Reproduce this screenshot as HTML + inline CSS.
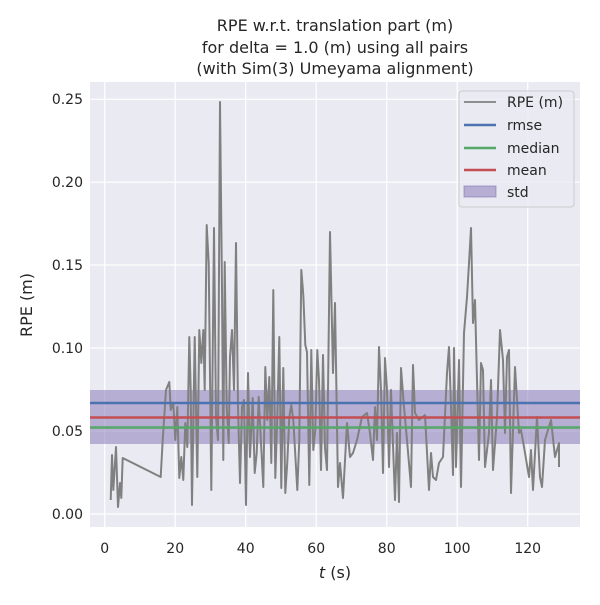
<!DOCTYPE html>
<html><head><style>
body{margin:0;background:#fff;font-family:"Liberation Sans","DejaVu Sans",sans-serif}
</style></head><body>
<svg width="600" height="600" xmlns="http://www.w3.org/2000/svg" font-family="DejaVu Sans, Liberation Sans, sans-serif">
<rect width="600" height="600" fill="#fff"/>
<rect x="90" y="82" width="490" height="445" fill="#eaeaf2"/>
<g stroke="#fff" stroke-width="1.2">
<line x1="104.7" y1="82" x2="104.7" y2="527"/><line x1="175.2" y1="82" x2="175.2" y2="527"/><line x1="245.7" y1="82" x2="245.7" y2="527"/><line x1="316.2" y1="82" x2="316.2" y2="527"/><line x1="386.7" y1="82" x2="386.7" y2="527"/><line x1="457.2" y1="82" x2="457.2" y2="527"/><line x1="527.7" y1="82" x2="527.7" y2="527"/>
<line x1="90" y1="99.3" x2="580" y2="99.3"/><line x1="90" y1="182.2" x2="580" y2="182.2"/><line x1="90" y1="265" x2="580" y2="265"/><line x1="90" y1="348" x2="580" y2="348"/><line x1="90" y1="431" x2="580" y2="431"/><line x1="90" y1="514" x2="580" y2="514"/>
</g>
<rect x="90" y="390" width="490" height="54" fill="#8172b3" fill-opacity="0.5"/>
<polyline fill="none" stroke="#808080" stroke-width="2" stroke-linejoin="round" points="110.7,500 112,455 113.3,490 116,447 118,507 120,483 121.3,498 122.7,458 160.7,477 162.7,440 166,390 169.3,382 170.7,410 173.3,403 175.3,440 177.3,407 179.3,478 181.3,457 183.3,480 185.3,423 187.3,447 189.3,337 190.7,390 192,505 194.7,337 197.3,477 199.3,330 201.3,363 203.3,330 204.7,390 206.7,225 208.7,263 211.3,490 214,228 216,417 218,440 220,102 222,290 223.3,460 224.7,262 226.7,407 228.7,443 230,357 232,330 234,390 236,243 238,407 240,483 242,407 244,400 246,505 248,373 250,457 252.7,398 254.7,473 256.7,453 258.7,397 260.7,437 263.3,487 265.3,367 267.3,420 269.3,377 271.3,463 273.3,290 275.3,478 277.3,417 279.3,337 281.3,488 283.3,368 285.3,493 287.3,462 289.3,417 291.3,405 293.3,420 295.3,455 297.3,490 299.3,440 301.3,270 303.3,295 305.3,345 307,352 309.3,485 311.3,350 313.3,450 315.3,430 317.3,350 319,380 321,470 323,355 325,448 327,470 330,232 333,373 335,303 338,487 340,463 343,498 347,423 350,457 353,453 357,440 362,417 367,413 370,433 373,460 375,407 377,440 379,347 381,390 383,473 385,358 387,390 389,467 391,390 395,500 397,433 399,502 401,368 404,407 407,440 411,487 413,365 415,413 419,420 425,415 429,490 431,453 433,477 436,480 439,463 443,457 447,373 449,347 451,407 453,475 454,348 456,467 459,360 461,487 464,333 467,297 469,263 471,228 473,323 475,300 479,460 481,363 483,370 485,467 489,433 491,380 493,470 497,417 500,330 503,360 505,433 507,357 509,350 511,493 515,367 519,433 521,430 524,447 529,477 531,450 533,490 537,417 540,477 542,487 545,440 551,420 555,457 559,443 559,467"/>
<line x1="90" y1="403" x2="580" y2="403" stroke="#4c72b0" stroke-width="2.5"/>
<line x1="90" y1="417.5" x2="580" y2="417.5" stroke="#c44e52" stroke-width="2.5"/>
<line x1="90" y1="427.5" x2="580" y2="427.5" stroke="#55a868" stroke-width="2.5"/>
<g font-size="14" fill="#262626" text-anchor="end">
<text x="83" y="104">0.25</text><text x="83" y="187">0.20</text><text x="83" y="270">0.15</text><text x="83" y="353">0.10</text><text x="83" y="436">0.05</text><text x="83" y="519">0.00</text>
</g>
<g font-size="14" fill="#262626" text-anchor="middle">
<text x="104.7" y="553">0</text><text x="175.2" y="553">20</text><text x="245.7" y="553">40</text><text x="316.2" y="553">60</text><text x="386.7" y="553">80</text><text x="457.2" y="553">100</text><text x="527.7" y="553">120</text>
<text x="335" y="578" font-size="16"><tspan font-style="italic">t</tspan> (s)</text>
<text x="335" y="31" font-size="16">RPE w.r.t. translation part (m)</text>
<text x="335" y="53" font-size="16">for delta = 1.0 (m) using all pairs</text>
<text x="335" y="74" font-size="16">(with Sim(3) Umeyama alignment)</text>
</g>
<text x="32" y="305" font-size="16" fill="#262626" text-anchor="middle" transform="rotate(-90 32 305)">RPE (m)</text>
<rect x="459" y="91" width="115" height="116" rx="3" fill="#eaeaf2" fill-opacity="0.8" stroke="#cccccc"/>
<g stroke-width="2.5">
<line x1="464" y1="102" x2="496" y2="102" stroke="#808080" stroke-width="1.8"/>
<line x1="464" y1="125" x2="496" y2="125" stroke="#4c72b0"/>
<line x1="464" y1="148" x2="496" y2="148" stroke="#55a868"/>
<line x1="464" y1="170" x2="496" y2="170" stroke="#c44e52"/>
</g>
<rect x="464" y="186" width="32" height="11" fill="#8172b3" fill-opacity="0.5" stroke="#8172b3" stroke-opacity="0.6"/>
<g font-size="14" fill="#262626">
<text x="507" y="107">RPE (m)</text><text x="507" y="130">rmse</text><text x="507" y="153">median</text><text x="507" y="175">mean</text><text x="507" y="197">std</text>
</g>
</svg>
</body></html>
